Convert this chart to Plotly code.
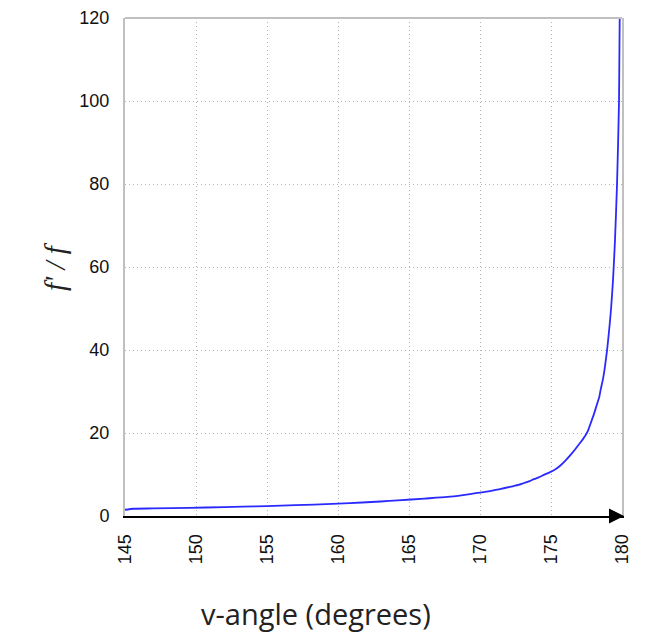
import plotly.graph_objects as go

# v-angle (degrees) and the ratio f'/f
angles = [145, 145.6, 147, 149.5, 152, 153.3, 155, 157, 158.3, 160, 161.7, 163, 164.2,
          166.1, 167.7, 168.8, 169.8, 170.7, 171.4, 172.1, 172.7, 173.1, 173.5, 173.8,
          174.2, 174.5, 174.9, 175.2, 175.6, 176, 176.5, 177, 177.4, 177.6, 177.8, 178.0,
          178.2, 178.4, 178.5, 178.66, 178.8, 178.95, 179.1, 179.23, 179.37, 179.5,
          179.65, 179.79, 179.85]
ratio = [1.5, 1.75, 1.82, 1.95, 2.15, 2.25, 2.4, 2.6, 2.75, 3.0, 3.25, 3.5, 3.75,
         4.2, 4.6, 5.05, 5.55, 6.0, 6.5, 7.0, 7.5, 7.95, 8.4, 8.9,
         9.4, 9.9, 10.5, 11.0, 12.0, 13.3, 15.2, 17.4, 19.3, 20.5, 22.4, 24.3,
         26.5, 28.7, 30.5, 33, 36, 40, 45, 50, 57, 66,
         80, 100, 125]

x_ticks = [145, 150, 155, 160, 165, 170, 175, 180]
y_ticks = [0, 20, 40, 60, 80, 100, 120]

fig = go.Figure()
fig.add_trace(go.Scatter(x=angles, y=ratio, mode="lines",
                         line=dict(color="#2a2aff", width=1.8, shape="spline",
                                   smoothing=0.6),
                         showlegend=False))

tick_font = dict(family="Liberation Sans", size=18, color="#111")
grid = dict(showgrid=True, gridcolor="#b4b4b4", griddash="1px,3px", gridwidth=1)

fig.update_layout(
    width=645, height=635,
    margin=dict(l=117, r=31, t=10, b=127),
    plot_bgcolor="white", paper_bgcolor="white",
    xaxis=dict(range=[145, 180], tickvals=x_ticks, tickangle=-90, tickfont=tick_font,
               showline=True, linecolor="black", linewidth=2, zeroline=False,
               ticks="", ticklabelstandoff=9, fixedrange=True, automargin=False, **grid),
    yaxis=dict(range=[0, 120], tickvals=y_ticks, tickfont=tick_font,
               showline=True, mirror=True, linecolor="#c0c0c0", linewidth=2,
               zeroline=False, ticks="", ticklabelstandoff=10, fixedrange=True,
               automargin=False, **grid),
    shapes=[dict(type="line", xref="paper", yref="paper", x0=0, x1=1, y0=1, y1=1,
                 line=dict(color="#c0c0c0", width=2))],
    annotations=[
        dict(xref="paper", yref="y", x=1.004, y=0, ax=-12, ay=0, axref="pixel",
             showarrow=True, arrowhead=2, arrowsize=1.5, arrowwidth=2,
             arrowcolor="black", text=""),
        dict(xref="paper", yref="paper", x=0.385, y=0, yshift=-119, showarrow=False,
             text="v-angle (degrees)",
             font=dict(family="Open Sans", size=29, color="#222")),
        dict(xref="paper", yref="paper", x=0, xshift=-88, y=0.5, showarrow=False,
             text="<i>f' / f</i>", textangle=-90,
             font=dict(family="Liberation Serif", size=29, color="#222")),
    ],
)

fig.write_html("out.html")
